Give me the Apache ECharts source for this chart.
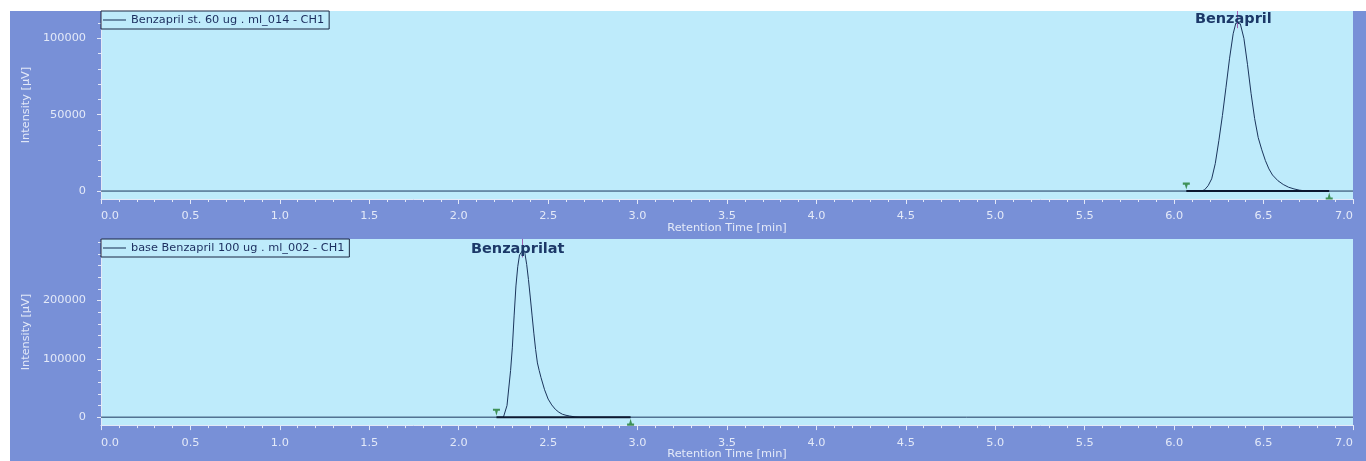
<!DOCTYPE html>
<html><head><meta charset="utf-8">
<script src="https://cdn.jsdelivr.net/npm/echarts@6/dist/echarts.min.js"></script>
<style>
html,body{margin:0;padding:0;background:#fff;}
#c{width:1366px;height:461px;
background:linear-gradient(#fff,#fff) 0 0/100% 11px no-repeat, linear-gradient(#fff,#fff) 0 0/10px 100% no-repeat, #7890d7;}
</style>
</head><body><div id="c"></div><script>
// ---- data ----
const topName = 'Benzapril st. 60 ug . ml_014 - CH1';
const botName = 'base Benzapril 100 ug . ml_002 - CH1';
const topPeakName = 'Benzapril';
const botPeakName = 'Benzaprilat';

const topTime   = [0, 6.15, 6.17, 6.19, 6.21, 6.23, 6.25, 6.27, 6.29, 6.31, 6.33, 6.345, 6.355, 6.37, 6.39, 6.41, 6.43, 6.45, 6.47, 6.49, 6.51, 6.53, 6.55, 6.58, 6.61, 6.64, 6.67, 6.70, 6.74, 7.0];
const topSignal = [0, 0, 800, 3500, 8000, 18000, 33000, 49500, 68000, 87000, 103000, 110000, 111100, 109500, 100000, 83000, 64000, 47500, 35000, 27000, 20000, 14500, 10500, 6800, 4300, 2500, 1400, 600, 0, 0];

const botTime   = [0, 2.25, 2.26, 2.27, 2.28, 2.29, 2.30, 2.31, 2.32, 2.33, 2.34, 2.356, 2.37, 2.38, 2.39, 2.40, 2.41, 2.42, 2.43, 2.44, 2.45, 2.46, 2.48, 2.50, 2.52, 2.54, 2.56, 2.58, 2.60, 2.62, 2.65, 2.68, 7.0];
const botSignal = [0, 0, 3000, 20000, 50000, 80000, 120000, 175000, 225000, 258000, 278000, 285300, 281000, 262000, 236000, 206000, 175000, 144000, 116000, 93000, 80000, 68000, 47000, 31000, 21000, 13500, 8500, 5000, 3200, 2000, 500, 0, 0];

const topIntegration = [6.068, 6.867];  // peak start / end (min)
const botIntegration = [2.211, 2.961];
const topApex = [6.355, 111100];
const botApex = [2.356, 285300];

const topYMajor = [0, 50000, 100000];
const topYMinor = [10000, 20000, 30000, 40000, 60000, 70000, 80000, 90000, 110000];
const botYMajor = [0, 100000, 200000];
const botYMinor = [20000, 40000, 60000, 80000, 120000, 140000, 160000, 180000, 220000, 240000, 260000, 280000, 300000];

// ---- style ----
const FONT = 'DejaVu Sans';
const plotBg = '#beebfb';
const tickCol = '#e3e9f8';
const lineCol = '#1b355c';
const greenCol = '#1f7a30';
const startSym = 'path://M0,0H10V3H7L5,10L3,3H0Z';
const endSym = 'path://M5,0L7,7H10V10H0V7H3Z';

const zip = (a, b) => a.map((t, i) => [t, b[i]]);

const ranges = [
  {min: -5200, max: 117900},
  {min: -13600, max: 305500}
];

function xAxis(i) {
  return {
    type: 'value', gridIndex: i, min: 0, max: 7, interval: 0.5,
    name: 'Retention Time [min]', nameLocation: 'middle', nameGap: 23,
    nameTextStyle: {color: tickCol, fontSize: 11.3, fontFamily: FONT},
    axisLine: {show: true, onZero: false, lineStyle: {color: tickCol, width: 1}},
    axisTick: {show: true, length: 5, lineStyle: {color: tickCol}},
    minorTick: {show: true, splitNumber: 5, length: 3, lineStyle: {color: tickCol}},
    splitLine: {show: false}, minorSplitLine: {show: false},
    axisLabel: {color: tickCol, fontSize: 11.3, fontFamily: FONT, margin: 12,
      formatter: v => v.toFixed(1), alignMinLabel: 'left', alignMaxLabel: 'right'}
  };
}
function yAxes(i, major, minor) {
  return [{
    type: 'value', gridIndex: i, min: ranges[i].min, max: ranges[i].max, position: 'left',
    name: 'Intensity [µV]', nameLocation: 'middle', nameGap: 68, nameRotate: 90,
    nameTextStyle: {color: tickCol, fontSize: 11.3, fontFamily: FONT},
    axisLine: {show: true, lineStyle: {color: tickCol}},
    axisTick: {show: true, length: 4, customValues: major, lineStyle: {color: tickCol}},
    axisLabel: {show: true, customValues: major, color: tickCol, fontSize: 11.3, fontFamily: FONT, margin: 15,
      formatter: v => String(Math.round(v))},
    splitLine: {show: false}
  }, {
    type: 'value', gridIndex: i, min: ranges[i].min, max: ranges[i].max, position: 'left',
    axisLine: {show: false},
    axisTick: {show: true, length: 3, customValues: minor, lineStyle: {color: tickCol}},
    axisLabel: {show: false},
    splitLine: {show: false}
  }];
}
function legend(name, top) {
  return {
    data: [{name: name, icon: 'rect'}], left: 101, top: top, padding: [3, 5, 3, 2],
    itemWidth: 23, itemHeight: 1, itemStyle: {color: '#142a50'},
    borderColor: '#1a2742', borderWidth: 1, selectedMode: false,
    textStyle: {color: '#1b2d5e', fontSize: 11.3, fontFamily: FONT, lineHeight: 12}
  };
}
function panelSeries(i, name, time, signal, integ, apex, peakName, labelAt) {
  const yIdx = i * 2;
  return [{
    type: 'line', name: name, xAxisIndex: i, yAxisIndex: yIdx,
    data: zip(time, signal), symbol: 'none', smooth: false,
    lineStyle: {color: lineCol, width: 1}, itemStyle: {color: lineCol},
    z: 3,
    markLine: {
      silent: true, symbol: 'none', label: {show: false},
      lineStyle: {color: '#9b5fb0', width: 1, type: 'solid'},
      data: [[{coord: [apex[0], apex[1] * 0.96]}, {coord: [apex[0], ranges[i].max]}]]
    },
    markPoint: {
      silent: true, symbol: 'circle', symbolSize: 1, itemStyle: {color: 'rgba(0,0,0,0)'},
      label: {show: true, position: 'inside', formatter: peakName, color: '#1c3868',
        fontWeight: 'bold', fontSize: 14.5, fontFamily: FONT},
      data: [{coord: labelAt}]
    }
  }, {
    type: 'line', xAxisIndex: i, yAxisIndex: yIdx, silent: true,
    data: integ.map(t => [t, 0]), symbol: 'none',
    lineStyle: {color: '#0d1830', width: 2}, z: 4
  }, {
    type: 'scatter', xAxisIndex: i, yAxisIndex: yIdx, silent: true,
    symbolSize: [7, 7], itemStyle: {color: greenCol}, z: 5,
    data: [
      {value: [integ[0], 0], symbol: startSym, symbolOffset: [0, -5]},
      {value: [integ[1], 0], symbol: endSym, symbolOffset: [0, 5]}
    ]
  }];
}

const chart = echarts.init(document.getElementById('c'));
chart.setOption({
  animation: false,
  backgroundColor: 'transparent',
  grid: [
    {left: 101, top: 11, width: 1252, height: 188, show: true, backgroundColor: plotBg, borderWidth: 0},
    {left: 101, top: 239, width: 1252, height: 187, show: true, backgroundColor: plotBg, borderWidth: 0}
  ],
  legend: [legend(topName, 11), legend(botName, 239)],
  xAxis: [xAxis(0), xAxis(1)],
  yAxis: [...yAxes(0, topYMajor, topYMinor), ...yAxes(1, botYMajor, botYMinor)],
  series: [
    ...panelSeries(0, topName, topTime, topSignal, topIntegration, topApex, topPeakName, [6.331, 112600]),
    ...panelSeries(1, botName, botTime, botSignal, botIntegration, botApex, botPeakName, [2.330, 288000])
  ]
});
</script></body></html>
